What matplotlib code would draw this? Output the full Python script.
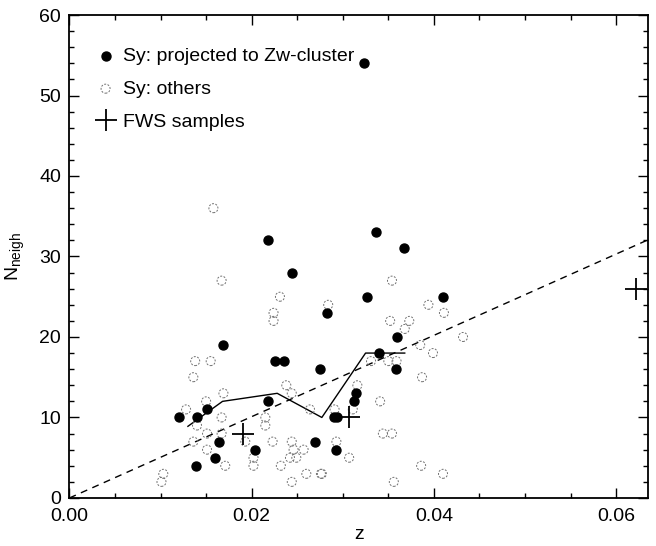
import matplotlib
matplotlib.use("Agg")
import matplotlib.pyplot as plt
from matplotlib.ticker import MultipleLocator

plt.rcParams['font.family'] = ['Liberation Sans', 'DejaVu Sans']

# Sy projected to Zw-cluster (filled)
zw_z = [0.0323, 0.0337, 0.0367, 0.0218, 0.0244, 0.0327, 0.0410, 0.0283, 0.0360,
        0.0168, 0.0226, 0.0236, 0.0340, 0.0275, 0.0358, 0.0314, 0.0312, 0.0218,
        0.0151, 0.0120, 0.0140, 0.0290, 0.0294, 0.0164, 0.0269, 0.0293, 0.0204,
        0.0160, 0.0139]
zw_n = [54, 33, 31, 32, 28, 25, 25, 23, 20,
        19, 17, 17, 18, 16, 16, 13, 12, 12,
        11, 10, 10, 10, 10, 7, 7, 6, 6,
        5, 4]

# Sy: others (open)
oth_z = [0.0158, 0.0167, 0.0231, 0.0224, 0.0224, 0.0284, 0.0354, 0.0394, 0.0411,
         0.0352, 0.0368, 0.0373, 0.0432, 0.0399, 0.0385, 0.0331, 0.0350, 0.0359,
         0.0387, 0.0316, 0.0341, 0.0311, 0.0344, 0.0354, 0.0307, 0.0277, 0.0386,
         0.0410, 0.0356, 0.0293, 0.0238, 0.0244, 0.0264, 0.0215, 0.0215, 0.0223,
         0.0244, 0.0257, 0.0246, 0.0242, 0.0249, 0.0202, 0.0202, 0.0232, 0.0260,
         0.0276, 0.0244, 0.0138, 0.0155, 0.0136, 0.0169, 0.0150, 0.0128, 0.0167,
         0.0140, 0.0151, 0.0167, 0.0136, 0.0151, 0.0171, 0.0193, 0.0103, 0.0101,
         0.0291]
oth_n = [36, 27, 25, 23, 22, 24, 27, 24, 23,
         22, 21, 22, 20, 18, 19, 17, 17, 17,
         15, 14, 12, 11, 8, 8, 5, 3, 4,
         3, 2, 7, 14, 13, 11, 10, 9, 7,
         7, 6, 6, 5, 5, 5, 4, 4, 3,
         3, 2, 17, 17, 15, 13, 12, 11, 10,
         9, 8, 8, 7, 6, 4, 7, 3, 2,
         11]

# FWS samples
fws_z = [0.0191, 0.0307, 0.0622]
fws_n = [8, 10, 26]

# running mean (solid line)
mean_z = [0.0130, 0.0168, 0.0228, 0.0277, 0.0325, 0.0368]
mean_n = [8.9, 12.0, 13.0, 10.0, 18.0, 18.0]

# dashed fit line
fit_z = [0.0, 0.0635]
fit_slope = 505.0

fig = plt.figure(figsize=(6.56, 5.46), dpi=100)
ax = fig.add_axes([0.1059, 0.088, 0.8819, 0.8845])

ax.plot(fit_z, [fit_slope * z for z in fit_z], color='black', lw=1.0,
        linestyle=(0, (5, 4)), zorder=2)
ax.plot(mean_z, mean_n, color='black', lw=1.0, zorder=2)

ax.scatter(oth_z, oth_n, s=42, facecolors='none', edgecolors='#707070',
           linewidths=0.7, linestyle=(0, (2, 1.5)), zorder=3, label='Sy: others')
ax.scatter(zw_z, zw_n, s=42, color='black', zorder=4,
           label='Sy: projected to Zw-cluster')
ax.plot(fws_z, fws_n, linestyle='none', marker='+', markersize=16,
        markeredgewidth=1.3, color='black', zorder=5, label='FWS samples')

ax.set_xlim(0, 0.0635)
ax.set_ylim(0, 60)
ax.xaxis.set_major_locator(MultipleLocator(0.02))
ax.xaxis.set_minor_locator(MultipleLocator(0.005))
ax.yaxis.set_major_locator(MultipleLocator(10))
ax.yaxis.set_minor_locator(MultipleLocator(2))
ax.xaxis.set_major_formatter(matplotlib.ticker.FormatStrFormatter('%.2f'))

ax.tick_params(which='both', direction='in', top=True, right=True,
               labelsize=14, width=1.0)
ax.tick_params(which='major', length=7)
ax.tick_params(which='minor', length=3.5)
ax.tick_params(axis='x', pad=7)
ax.tick_params(axis='y', pad=6)
for sp in ax.spines.values():
    sp.set_linewidth(1.3)

ax.set_xlabel('z', fontsize=14, labelpad=1)
ax.set_ylabel(r'N$_{\mathregular{neigh}}$', fontsize=14, labelpad=9)

h, l = ax.get_legend_handles_labels()
order = [l.index('Sy: projected to Zw-cluster'), l.index('Sy: others'),
         l.index('FWS samples')]
leg = ax.legend([h[i] for i in order], [l[i] for i in order], loc='upper left',
                frameon=False, fontsize=14, handletextpad=0.3,
                handlelength=1.2, labelspacing=0.8,
                bbox_to_anchor=(0.012, 0.97))

fig.savefig('out.png', dpi=100)
